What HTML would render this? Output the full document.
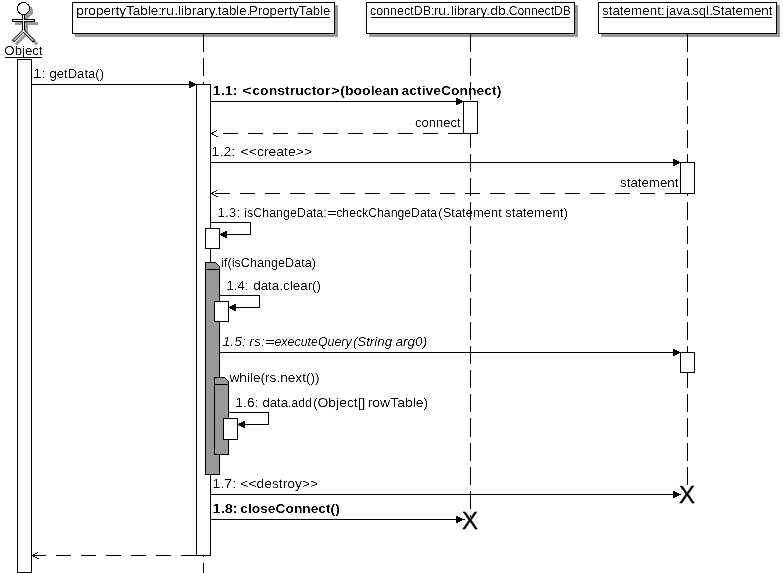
<!DOCTYPE html>
<html lang="en">
<head>
<meta charset="utf-8">
<title>Sequence diagram: getData()</title>
<style>
html,body{margin:0;padding:0;background:#fff;overflow:hidden}
svg{display:block}
text{font-family:"Liberation Sans", sans-serif;font-size:13px;fill:#000;white-space:pre}
</style>
</head>
<body>
<svg width="783" height="573" viewBox="0 0 783 573" shape-rendering="crispEdges">
<rect x="0" y="0" width="783" height="573" fill="#fff"/>
<defs><filter id="soft" x="0" y="0" width="783" height="573" filterUnits="userSpaceOnUse" color-interpolation-filters="sRGB"><feComponentTransfer><feFuncA type="linear" slope="1" intercept="0"/></feComponentTransfer></filter><filter id="crisp" x="0" y="0" width="783" height="573" filterUnits="userSpaceOnUse" color-interpolation-filters="sRGB"><feComponentTransfer><feFuncA type="linear" slope="2" intercept="-0.6"/></feComponentTransfer></filter></defs>
<rect x="203" y="34" width="1" height="18" fill="#000"/>
<rect x="203" y="58" width="1" height="18" fill="#000"/>
<rect x="203" y="82" width="1" height="18" fill="#000"/>
<rect x="203" y="106" width="1" height="18" fill="#000"/>
<rect x="203" y="130" width="1" height="18" fill="#000"/>
<rect x="203" y="154" width="1" height="18" fill="#000"/>
<rect x="203" y="178" width="1" height="18" fill="#000"/>
<rect x="203" y="202" width="1" height="18" fill="#000"/>
<rect x="203" y="226" width="1" height="18" fill="#000"/>
<rect x="203" y="250" width="1" height="18" fill="#000"/>
<rect x="203" y="274" width="1" height="18" fill="#000"/>
<rect x="203" y="298" width="1" height="18" fill="#000"/>
<rect x="203" y="322" width="1" height="18" fill="#000"/>
<rect x="203" y="346" width="1" height="18" fill="#000"/>
<rect x="203" y="370" width="1" height="18" fill="#000"/>
<rect x="203" y="394" width="1" height="18" fill="#000"/>
<rect x="203" y="418" width="1" height="19" fill="#000"/>
<rect x="203" y="443" width="1" height="18" fill="#000"/>
<rect x="203" y="467" width="1" height="18" fill="#000"/>
<rect x="203" y="491" width="1" height="18" fill="#000"/>
<rect x="203" y="515" width="1" height="18" fill="#000"/>
<rect x="203" y="539" width="1" height="18" fill="#000"/>
<rect x="203" y="563" width="1" height="10" fill="#000"/>
<rect x="470" y="34" width="1" height="18" fill="#000"/>
<rect x="470" y="58" width="1" height="18" fill="#000"/>
<rect x="470" y="82" width="1" height="18" fill="#000"/>
<rect x="470" y="106" width="1" height="18" fill="#000"/>
<rect x="470" y="130" width="1" height="18" fill="#000"/>
<rect x="470" y="154" width="1" height="18" fill="#000"/>
<rect x="470" y="178" width="1" height="18" fill="#000"/>
<rect x="470" y="202" width="1" height="18" fill="#000"/>
<rect x="470" y="226" width="1" height="18" fill="#000"/>
<rect x="470" y="250" width="1" height="18" fill="#000"/>
<rect x="470" y="274" width="1" height="18" fill="#000"/>
<rect x="470" y="298" width="1" height="18" fill="#000"/>
<rect x="470" y="322" width="1" height="18" fill="#000"/>
<rect x="470" y="346" width="1" height="18" fill="#000"/>
<rect x="470" y="370" width="1" height="18" fill="#000"/>
<rect x="470" y="394" width="1" height="18" fill="#000"/>
<rect x="470" y="418" width="1" height="19" fill="#000"/>
<rect x="470" y="443" width="1" height="18" fill="#000"/>
<rect x="470" y="467" width="1" height="18" fill="#000"/>
<rect x="470" y="491" width="1" height="18" fill="#000"/>
<rect x="470" y="515" width="1" height="2" fill="#000"/>
<rect x="687" y="34" width="1" height="18" fill="#000"/>
<rect x="687" y="58" width="1" height="18" fill="#000"/>
<rect x="687" y="82" width="1" height="18" fill="#000"/>
<rect x="687" y="106" width="1" height="18" fill="#000"/>
<rect x="687" y="130" width="1" height="18" fill="#000"/>
<rect x="687" y="154" width="1" height="18" fill="#000"/>
<rect x="687" y="178" width="1" height="18" fill="#000"/>
<rect x="687" y="202" width="1" height="18" fill="#000"/>
<rect x="687" y="226" width="1" height="18" fill="#000"/>
<rect x="687" y="250" width="1" height="18" fill="#000"/>
<rect x="687" y="274" width="1" height="18" fill="#000"/>
<rect x="687" y="298" width="1" height="18" fill="#000"/>
<rect x="687" y="322" width="1" height="18" fill="#000"/>
<rect x="687" y="346" width="1" height="18" fill="#000"/>
<rect x="687" y="370" width="1" height="18" fill="#000"/>
<rect x="687" y="394" width="1" height="18" fill="#000"/>
<rect x="687" y="418" width="1" height="19" fill="#000"/>
<rect x="687" y="443" width="1" height="18" fill="#000"/>
<rect x="687" y="467" width="1" height="18" fill="#000"/>
<rect x="75" y="5" width="263" height="32" fill="#999999"/>
<rect x="203" y="34" width="1" height="6" fill="#000"/>
<rect x="72.5" y="2.5" width="262" height="31" fill="#fff" stroke="#000" stroke-width="1"/>
<rect x="77" y="17" width="253" height="1" fill="#000"/>
<rect x="369" y="5" width="209" height="32" fill="#999999"/>
<rect x="470" y="34" width="1" height="6" fill="#000"/>
<rect x="366.5" y="2.5" width="208" height="31" fill="#fff" stroke="#000" stroke-width="1"/>
<rect x="371" y="17" width="199" height="1" fill="#000"/>
<rect x="601" y="5" width="179" height="32" fill="#999999"/>
<rect x="687" y="34" width="1" height="6" fill="#000"/>
<rect x="598.5" y="2.5" width="178" height="31" fill="#fff" stroke="#000" stroke-width="1"/>
<rect x="603" y="17" width="169" height="1" fill="#000"/>
<g transform="translate(3,3)" stroke="#999999" fill="#999999"><circle cx="23.5" cy="8.5" r="6.5" stroke="none"/><path d="M23.5 14 V31 M12 20.5 H35" stroke-width="3" fill="none"/><path d="M23.5 30.75 L12.9 41.35 M23.5 30.75 L34.1 41.35" stroke-width="2.9" fill="none" shape-rendering="geometricPrecision"/></g>
<g><path d="M23.5 14 V32 M12 20.5 H35" stroke="#000" stroke-width="3" fill="none"/><path d="M23.5 30.75 L12.9 41.35 M23.5 30.75 L34.1 41.35" stroke="#000" stroke-width="2.9" fill="none" shape-rendering="geometricPrecision"/><path d="M23.5 14 V31 M13 20.5 H34" stroke="#fff" stroke-width="1" fill="none"/><path d="M23.5 30.75 L13.6 40.65 M23.5 30.75 L33.4 40.65" stroke="#fff" stroke-width="1.2" fill="none" shape-rendering="geometricPrecision"/><circle cx="23.5" cy="8.5" r="6" fill="#fff" stroke="#000" stroke-width="1"/></g>
<rect x="5" y="57" width="37" height="1" fill="#000"/>
<rect x="17.5" y="59.5" width="14" height="513" fill="#fff" stroke="#000" stroke-width="1"/>
<rect x="196.5" y="84.5" width="14" height="471" fill="#fff" stroke="#000" stroke-width="1"/>
<rect x="32" y="84" width="164" height="1" fill="#000"/>
<rect x="189" y="81" width="2" height="7" fill="#000"/>
<rect x="191" y="82" width="2" height="5" fill="#000"/>
<rect x="193" y="83" width="2" height="3" fill="#000"/>
<rect x="195" y="84" width="1" height="1" fill="#000"/>
<rect x="211" y="101" width="252" height="1" fill="#000"/>
<rect x="456" y="98" width="2" height="7" fill="#000"/>
<rect x="458" y="99" width="2" height="5" fill="#000"/>
<rect x="460" y="100" width="2" height="3" fill="#000"/>
<rect x="462" y="101" width="1" height="1" fill="#000"/>
<rect x="463.5" y="101.5" width="14" height="32" fill="#fff" stroke="#000" stroke-width="1"/>
<rect x="448" y="133" width="15" height="1" fill="#000"/>
<rect x="423" y="133" width="15" height="1" fill="#000"/>
<rect x="398" y="133" width="15" height="1" fill="#000"/>
<rect x="373" y="133" width="15" height="1" fill="#000"/>
<rect x="348" y="133" width="15" height="1" fill="#000"/>
<rect x="323" y="133" width="15" height="1" fill="#000"/>
<rect x="298" y="133" width="15" height="1" fill="#000"/>
<rect x="273" y="133" width="15" height="1" fill="#000"/>
<rect x="248" y="133" width="15" height="1" fill="#000"/>
<rect x="223" y="133" width="15" height="1" fill="#000"/>
<rect x="211" y="133" width="2" height="1" fill="#000"/>
<rect x="211" y="133" width="2" height="1" fill="#000"/>
<rect x="212" y="132" width="2" height="1" fill="#000"/>
<rect x="214" y="131" width="2" height="1" fill="#000"/>
<rect x="216" y="130" width="1" height="1" fill="#000"/>
<rect x="212" y="134" width="2" height="1" fill="#000"/>
<rect x="214" y="135" width="2" height="1" fill="#000"/>
<rect x="216" y="136" width="2" height="1" fill="#000"/>
<rect x="211" y="162" width="469" height="1" fill="#000"/>
<rect x="673" y="159" width="2" height="7" fill="#000"/>
<rect x="675" y="160" width="2" height="5" fill="#000"/>
<rect x="677" y="161" width="2" height="3" fill="#000"/>
<rect x="679" y="162" width="1" height="1" fill="#000"/>
<rect x="680.5" y="162.5" width="14" height="31" fill="#fff" stroke="#000" stroke-width="1"/>
<rect x="665" y="193" width="15" height="1" fill="#000"/>
<rect x="640" y="193" width="15" height="1" fill="#000"/>
<rect x="615" y="193" width="15" height="1" fill="#000"/>
<rect x="590" y="193" width="15" height="1" fill="#000"/>
<rect x="565" y="193" width="15" height="1" fill="#000"/>
<rect x="540" y="193" width="15" height="1" fill="#000"/>
<rect x="515" y="193" width="15" height="1" fill="#000"/>
<rect x="490" y="193" width="15" height="1" fill="#000"/>
<rect x="465" y="193" width="15" height="1" fill="#000"/>
<rect x="440" y="193" width="15" height="1" fill="#000"/>
<rect x="415" y="193" width="15" height="1" fill="#000"/>
<rect x="390" y="193" width="15" height="1" fill="#000"/>
<rect x="365" y="193" width="15" height="1" fill="#000"/>
<rect x="340" y="193" width="15" height="1" fill="#000"/>
<rect x="315" y="193" width="15" height="1" fill="#000"/>
<rect x="290" y="193" width="15" height="1" fill="#000"/>
<rect x="265" y="193" width="15" height="1" fill="#000"/>
<rect x="240" y="193" width="15" height="1" fill="#000"/>
<rect x="215" y="193" width="15" height="1" fill="#000"/>
<rect x="211" y="193" width="2" height="1" fill="#000"/>
<rect x="212" y="192" width="2" height="1" fill="#000"/>
<rect x="214" y="191" width="2" height="1" fill="#000"/>
<rect x="216" y="190" width="1" height="1" fill="#000"/>
<rect x="212" y="194" width="2" height="1" fill="#000"/>
<rect x="214" y="195" width="2" height="1" fill="#000"/>
<rect x="216" y="196" width="2" height="1" fill="#000"/>
<rect x="210" y="222" width="41" height="1" fill="#000"/>
<rect x="250" y="222" width="1" height="13" fill="#000"/>
<rect x="220" y="234" width="31" height="1" fill="#000"/>
<rect x="205.5" y="228.5" width="14" height="20" fill="#fff" stroke="#000" stroke-width="1"/>
<rect x="225" y="231" width="2" height="7" fill="#000"/>
<rect x="223" y="232" width="2" height="5" fill="#000"/>
<rect x="221" y="233" width="2" height="3" fill="#000"/>
<rect x="220" y="234" width="1" height="1" fill="#000"/>
<path d="M205.5 262.5 H215.5 L219.5 266.5 V474.5 H205.5 Z" fill="#999999" stroke="#000" stroke-width="1"/>
<rect x="205" y="269" width="15" height="1" fill="#000"/>
<rect x="219" y="295" width="41" height="1" fill="#000"/>
<rect x="259" y="295" width="1" height="13" fill="#000"/>
<rect x="229" y="307" width="31" height="1" fill="#000"/>
<rect x="214.5" y="301.5" width="14" height="20" fill="#fff" stroke="#000" stroke-width="1"/>
<rect x="234" y="304" width="2" height="7" fill="#000"/>
<rect x="232" y="305" width="2" height="5" fill="#000"/>
<rect x="230" y="306" width="2" height="3" fill="#000"/>
<rect x="229" y="307" width="1" height="1" fill="#000"/>
<rect x="220" y="352" width="460" height="1" fill="#000"/>
<rect x="673" y="349" width="2" height="7" fill="#000"/>
<rect x="675" y="350" width="2" height="5" fill="#000"/>
<rect x="677" y="351" width="2" height="3" fill="#000"/>
<rect x="679" y="352" width="1" height="1" fill="#000"/>
<rect x="680.5" y="352.5" width="14" height="20" fill="#fff" stroke="#000" stroke-width="1"/>
<path d="M214.5 377.5 H224.5 L228.5 381.5 V454.5 H214.5 Z" fill="#999999" stroke="#000" stroke-width="1"/>
<rect x="214" y="384" width="15" height="1" fill="#000"/>
<rect x="228" y="412" width="41" height="1" fill="#000"/>
<rect x="268" y="412" width="1" height="13" fill="#000"/>
<rect x="238" y="424" width="31" height="1" fill="#000"/>
<rect x="223.5" y="418.5" width="14" height="21" fill="#fff" stroke="#000" stroke-width="1"/>
<rect x="243" y="421" width="2" height="7" fill="#000"/>
<rect x="241" y="422" width="2" height="5" fill="#000"/>
<rect x="239" y="423" width="2" height="3" fill="#000"/>
<rect x="238" y="424" width="1" height="1" fill="#000"/>
<rect x="211" y="494" width="470" height="1" fill="#000"/>
<rect x="673" y="491" width="2" height="7" fill="#000"/>
<rect x="675" y="492" width="2" height="5" fill="#000"/>
<rect x="677" y="493" width="2" height="3" fill="#000"/>
<rect x="679" y="494" width="1" height="1" fill="#000"/>
<rect x="211" y="519" width="254" height="1" fill="#000"/>
<rect x="456" y="516" width="2" height="7" fill="#000"/>
<rect x="458" y="517" width="2" height="5" fill="#000"/>
<rect x="460" y="518" width="2" height="3" fill="#000"/>
<rect x="462" y="519" width="1" height="1" fill="#000"/>
<rect x="181" y="555" width="15" height="1" fill="#000"/>
<rect x="156" y="555" width="15" height="1" fill="#000"/>
<rect x="131" y="555" width="15" height="1" fill="#000"/>
<rect x="106" y="555" width="15" height="1" fill="#000"/>
<rect x="81" y="555" width="15" height="1" fill="#000"/>
<rect x="56" y="555" width="15" height="1" fill="#000"/>
<rect x="32" y="555" width="14" height="1" fill="#000"/>
<rect x="32" y="555" width="2" height="1" fill="#000"/>
<rect x="33" y="554" width="2" height="1" fill="#000"/>
<rect x="35" y="553" width="2" height="1" fill="#000"/>
<rect x="37" y="552" width="1" height="1" fill="#000"/>
<rect x="33" y="556" width="2" height="1" fill="#000"/>
<rect x="35" y="557" width="2" height="1" fill="#000"/>
<rect x="37" y="558" width="2" height="1" fill="#000"/>
<g filter="url(#crisp)">
<text y="15"><tspan x="76.33" textLength="85.77" lengthAdjust="spacingAndGlyphs">propertyTable:</tspan><tspan x="161.1" textLength="17.15" lengthAdjust="spacingAndGlyphs">ru.</tspan><tspan x="177.98" textLength="40.46" lengthAdjust="spacingAndGlyphs">library.</tspan><tspan x="217.86" textLength="32.47" lengthAdjust="spacingAndGlyphs">table.</tspan><tspan x="249.13" textLength="81.22" lengthAdjust="spacingAndGlyphs">PropertyTable</tspan></text>
<text y="15"><tspan x="369.92" textLength="64.66" lengthAdjust="spacingAndGlyphs">connectDB:</tspan><tspan x="433.7" textLength="16.34" lengthAdjust="spacingAndGlyphs">ru.</tspan><tspan x="451.0" textLength="38.82" lengthAdjust="spacingAndGlyphs">library.</tspan><tspan x="490.19" textLength="19.3" lengthAdjust="spacingAndGlyphs">db.</tspan><tspan x="508.82" textLength="62.14" lengthAdjust="spacingAndGlyphs">ConnectDB</tspan></text>
<text y="15"><tspan x="601.95" textLength="62.76" lengthAdjust="spacingAndGlyphs">statement:</tspan><tspan x="666.08" textLength="27.62" lengthAdjust="spacingAndGlyphs">java.</tspan><tspan x="692.27" textLength="20.57" lengthAdjust="spacingAndGlyphs">sql.</tspan><tspan x="711.84" textLength="60.59" lengthAdjust="spacingAndGlyphs">Statement</tspan></text>
<text y="55"><tspan x="4.32" textLength="38.38" lengthAdjust="spacingAndGlyphs">Object</tspan></text>
<text y="78"><tspan x="32.98" textLength="12.84" lengthAdjust="spacingAndGlyphs">1:</tspan> <tspan x="49.43" textLength="54.67" lengthAdjust="spacingAndGlyphs">getData()</tspan></text>
<text y="95" font-weight="bold"><tspan x="212.58" textLength="25.07" lengthAdjust="spacingAndGlyphs">1.1:</tspan> <tspan x="241.9" textLength="9.65" lengthAdjust="spacingAndGlyphs">&lt;</tspan><tspan x="252.29" textLength="78.13" lengthAdjust="spacingAndGlyphs">constructor</tspan><tspan x="330.96" textLength="8.85" lengthAdjust="spacingAndGlyphs">&gt;</tspan><tspan x="340.24" textLength="58.55" lengthAdjust="spacingAndGlyphs">(boolean</tspan> <tspan x="401.57" textLength="99.78" lengthAdjust="spacingAndGlyphs">activeConnect)</tspan></text>
<text y="127"><tspan x="414.99" textLength="45.55" lengthAdjust="spacingAndGlyphs">connect</tspan></text>
<text y="156"><tspan x="211.62" textLength="23.55" lengthAdjust="spacingAndGlyphs">1.2:</tspan> <tspan x="240.63" textLength="71.44" lengthAdjust="spacingAndGlyphs">&lt;&lt;create&gt;&gt;</tspan></text>
<text y="187"><tspan x="620.04" textLength="58.43" lengthAdjust="spacingAndGlyphs">statement</tspan></text>
<text y="217"><tspan x="217.58" textLength="22.57" lengthAdjust="spacingAndGlyphs">1.3:</tspan> <tspan x="244.29" textLength="82.37" lengthAdjust="spacingAndGlyphs">isChangeData:</tspan><tspan x="327.17" textLength="9.49" lengthAdjust="spacingAndGlyphs">=</tspan><tspan x="336.22" textLength="100.78" lengthAdjust="spacingAndGlyphs">checkChangeData</tspan><tspan x="438.35" textLength="63.4" lengthAdjust="spacingAndGlyphs">(Statement</tspan> <tspan x="505.03" textLength="63.01" lengthAdjust="spacingAndGlyphs">statement)</tspan></text>
<text y="290"><tspan x="226.4" textLength="22.13" lengthAdjust="spacingAndGlyphs">1.4:</tspan> <tspan x="253.2" textLength="67.86" lengthAdjust="spacingAndGlyphs">data.clear()</tspan></text>
<text y="267"><tspan x="221.1" textLength="94.93" lengthAdjust="spacingAndGlyphs">if(isChangeData)</tspan></text>
<text y="346" font-style="italic"><tspan x="222.48" textLength="23.49" lengthAdjust="spacingAndGlyphs">1.5:</tspan> <tspan x="249.21" textLength="15.65" lengthAdjust="spacingAndGlyphs">rs:</tspan><tspan x="265.03" textLength="9.39" lengthAdjust="spacingAndGlyphs">=</tspan><tspan x="274.45" textLength="77.26" lengthAdjust="spacingAndGlyphs">executeQuery</tspan><tspan x="352.9" textLength="39.14" lengthAdjust="spacingAndGlyphs">(String</tspan> <tspan x="395.53" textLength="31.68" lengthAdjust="spacingAndGlyphs">arg0)</tspan></text>
<text y="382"><tspan x="229.48" textLength="90.13" lengthAdjust="spacingAndGlyphs">while(rs.next())</tspan></text>
<text y="407"><tspan x="235.35" textLength="23.15" lengthAdjust="spacingAndGlyphs">1.6:</tspan> <tspan x="262.49" textLength="29.15" lengthAdjust="spacingAndGlyphs">data.</tspan><tspan x="291.32" textLength="20.6" lengthAdjust="spacingAndGlyphs">add</tspan><tspan x="312.9" textLength="52.54" lengthAdjust="spacingAndGlyphs">(Object[]</tspan> <tspan x="367.7" textLength="60.49" lengthAdjust="spacingAndGlyphs">rowTable)</tspan></text>
<text y="488"><tspan x="212.54" textLength="23.56" lengthAdjust="spacingAndGlyphs">1.7:</tspan> <tspan x="240.34" textLength="77.77" lengthAdjust="spacingAndGlyphs">&lt;&lt;destroy&gt;&gt;</tspan></text>
<text y="513" font-weight="bold"><tspan x="212.6" textLength="25.12" lengthAdjust="spacingAndGlyphs">1.8:</tspan> <tspan x="240.29" textLength="99.52" lengthAdjust="spacingAndGlyphs">closeConnect()</tspan></text>
</g>
<g filter="url(#soft)">
<text x="687.1" y="503" text-anchor="middle" style="font-size:24px" stroke="#000" stroke-width="0.35">X</text>
<text x="470.1" y="529" text-anchor="middle" style="font-size:24px" stroke="#000" stroke-width="0.35">X</text>
</g>
</svg>
</body>
</html>
